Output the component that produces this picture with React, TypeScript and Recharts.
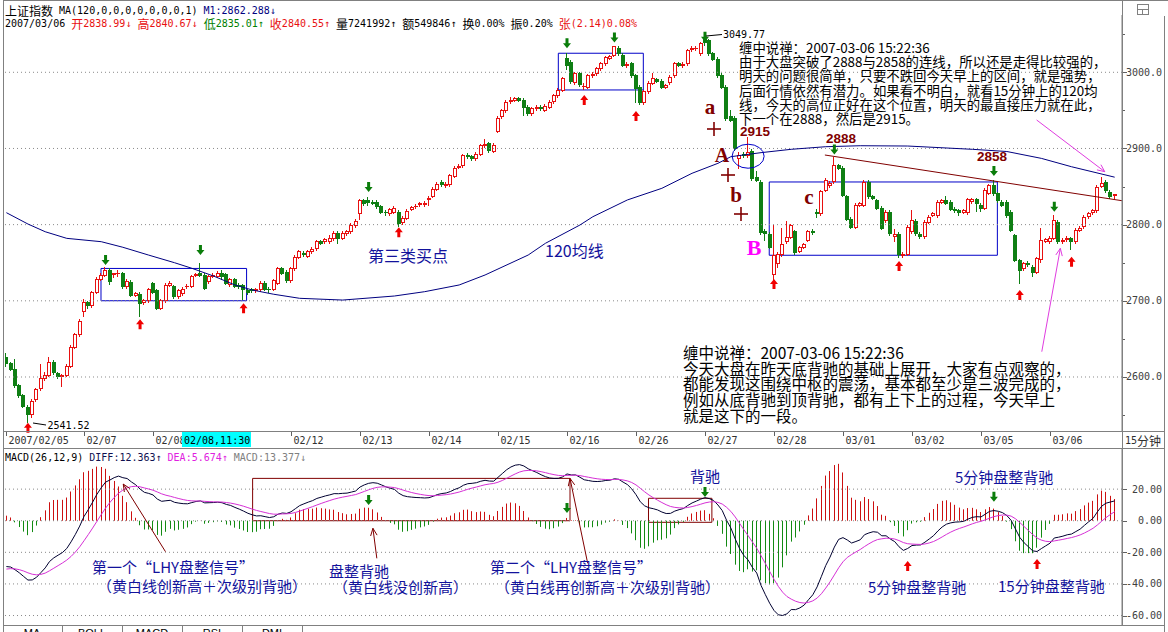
import React from 'react';
import { ComposedChart, Bar, Line, XAxis, YAxis, ReferenceArea, ReferenceDot, ReferenceLine } from 'recharts';

// ---------- 15-minute candles (02/05 tail, 02/06 ... 03/06), one row per trading day ----------
const OPEN = [
  2626,2618,2610,2589,2576,2561,2551,2571,2585,2599,2603,2620,2605,2601,2603,2615,2640,2656,
  2686,2698,2694,2712,2729,2734,2741,2735,2736,2736,2719,2725,2708,2709,2698,2701,
  2723,2714,2691,2701,2721,2719,2706,2710,2719,2720,2734,2737,2734,2726,2733,2733,
  2737,2735,2722,2728,2721,2721,2714,2715,2714,2715,2724,2716,2716,2724,2743,2738,
  2727,2743,2758,2763,2759,2765,2769,2778,2778,2778,2782,2789,2783,2789,2791,2799,
  2815,2832,2832,2830,2830,2824,2817,2815,2817,2817,2803,2809,2821,2824,2827,2827,
  2834,2838,2847,2856,2852,2853,2864,2876,2878,2892,2890,2887,2893,2904,2907,2897,
  2923,2942,2950,2962,2964,2966,2964,2955,2946,2953,2955,2951,2955,2962,2970,2977,
  3019,3014,2987,2999,2982,2981,2996,2999,3005,3012,3019,3023,3032,3023,3009,3012,
  2996,2981,2961,2975,2986,2991,2989,2981,2987,2996,3012,3009,3012,3030,3032,3025,
  3045,3042,3025,3018,2997,2981,2942,2940,2888,2893,2891,2897,2862,2856,2792,2788,
  2735,2749,2761,2778,2784,2791,2766,2771,2780,2792,2817,2815,2846,2852,2857,2878,
  2875,2837,2808,2797,2826,2826,2856,2837,2832,2822,2806,2817,2785,2788,2760,2762,
  2791,2805,2788,2785,2804,2813,2812,2830,2832,2830,2821,2819,2817,2816,2831,2833,
  2826,2822,2842,2852,2841,2830,2830,2817,2786,2753,2743,2750,2745,2738,2755,2779,
  2778,2783,2804,2778,2781,2782,2778,2793,2798,2811,2816,2819,2851,2856,2843,2838.99,
];
const CLOSE = [
  2619,2611,2589,2576,2562,2551,2569,2584,2599,2603,2620,2606,2601,2602,2615,2640,2656,2674,
  2698,2694,2711,2729,2734,2741,2726,2736,2737,2719,2726,2708,2710,2697,2701,2715,
  2712,2691,2701,2721,2723,2706,2714,2716,2720,2732,2735,2734,2717,2732,2734,2737,
  2733,2724,2728,2720,2720,2716,2712,2714,2715,2724,2716,2715,2727,2743,2737,2727,
  2743,2758,2765,2761,2765,2768,2778,2776,2781,2783,2789,2783,2789,2791,2800,2805,
  2832,2828,2830,2829,2824,2817,2816,2820,2822,2802,2809,2818,2823,2825,2828,2829,
  2835,2847,2854,2853,2854,2865,2875,2877,2891,2890,2887,2893,2904,2906,2898,2905,
  2940,2950,2961,2964,2966,2964,2955,2946,2953,2955,2953,2956,2961,2970,2977,2992,
  3010,2988,2999,2984,2982.5,2996,2998,3005,3012,3020,3021,3034,3025,3010,3011,2996,
  2979,2961,2975,2986,2992,2989,2981,2983,2994,3012,3010,3011,3029,3032,3032.5,3038,
  3040,3025,3018,2996,2981,2940,2938,2900,2891,2891,2895,2861,2859,2790,2789,2771,
  2760,2762,2775,2784,2799,2764,2770,2774,2791,2790,2815,2844,2859,2855,2878,2875,
  2839,2808,2797,2826,2828,2856,2837,2835,2822,2796,2817,2789,2788,2761,2762,2797,
  2806,2789,2785,2804,2810,2815,2830,2832,2829,2821,2819,2816,2819,2833,2833,2828,
  2822,2846,2852,2841,2832,2826,2812,2793,2754,2740,2749,2748,2738,2756,2780,2781,
  2783,2806,2778,2780,2783,2779,2793,2796,2810,2815,2819,2850,2855,2845,2837,2840.55,
];
const HIGH = [
  2631,2620,2624,2591,2578,2563,2571,2586,2617,2606,2626,2622,2607,2604,2617,2642,2658,2676,
  2702,2700,2713,2731,2736,2744,2743,2737,2740,2738,2728,2727,2712,2711,2703,2717,
  2725,2716,2703,2723,2726,2721,2716,2718,2722,2734,2737,2749,2736,2734,2736,2739,
  2741,2737,2730,2730,2723,2722,2716,2717,2717,2726,2726,2718,2729,2745,2745,2740,
  2745,2760,2767,2765,2767,2770,2780,2780,2783,2786,2791,2791,2791,2793,2802,2807,
  2834,2834,2836,2832,2832,2826,2819,2822,2824,2819,2811,2820,2825,2827,2830,2831,
  2838,2849,2856,2858,2856,2867,2877,2879,2893,2894,2892,2895,2906,2912,2909,2907,
  2942,2952,2963,2967,2968,2968,2966,2957,2955,2957,2957,2958,2963,2972,2979,2994,
  3025,3016,3001,3001,2986,2998,3000,3007,3014,3022,3023,3035,3034,3025,3013,3014,
  2998,2983,2977,2988,2999,2993,2991,2985,2996,3014,3014,3013,3031,3034,3035,3040,
  3049.77,3044,3027,3020,2999,2983,2950,2942,2896,2895,2915,2899,2870,2858,2794,2790,
  2800,2764,2795,2805,2801,2793,2772,2776,2793,2794,2820,2846,2861,2857,2889,2880,
  2877,2839,2810,2828,2830,2858,2858,2839,2834,2824,2819,2819,2794,2790,2764,2799,
  2819,2807,2790,2806,2812,2817,2832,2834,2838,2832,2823,2821,2821,2835,2835,2835,
  2829,2848,2854,2858,2843,2832,2832,2819,2788,2755,2751,2752,2747,2758,2795,2783,
  2785,2812,2806,2782,2785,2784,2795,2798,2812,2817,2821,2852,2863,2858,2845,2840.67,
];
const LOW = [
  2615,2609,2587,2574,2560,2541.52,2548,2569,2583,2596,2601,2604,2599,2588,2601,2613,2638,2654,
  2680,2690,2692,2710,2727,2732,2722,2731,2733,2717,2717,2706,2706,2680,2696,2699,
  2710,2689,2689,2699,2719,2704,2704,2708,2717,2718,2732,2732,2715,2724,2731,2731,
  2728,2722,2720,2718,2717,2703,2709,2711,2712,2713,2714,2711,2714,2722,2735,2725,
  2725,2741,2756,2759,2757,2763,2767,2774,2776,2776,2780,2776,2781,2787,2789,2797,
  2808,2826,2826,2827,2822,2815,2813,2813,2815,2798,2801,2807,2819,2822,2825,2825,
  2826,2836,2845,2851,2850,2851,2862,2874,2876,2888,2885,2885,2891,2902,2896,2895,
  2921,2940,2948,2960,2962,2962,2944,2944,2944,2951,2951,2949,2953,2960,2968,2975,
  3004,2986,2985,2982,2978,2979,2994,2997,3003,3010,3017,3021,3023,3008,3007,2994,
  2961,2959,2959,2973,2984,2987,2979,2979,2985,2994,3008,3007,3010,3028,3029,3023,
  3036,3023,3016,2994,2979,2938,2936,2898,2875,2889,2889,2859,2857,2788,2780,2769,
  2722,2745,2759,2776,2782,2762,2764,2769,2778,2788,2810,2813,2844,2850,2855,2873,
  2837,2806,2795,2795,2824,2824,2835,2833,2820,2794,2804,2786,2779,2758,2758,2760,
  2789,2787,2783,2783,2802,2811,2810,2828,2827,2819,2817,2812,2815,2814,2829,2818,
  2818,2820,2840,2839,2830,2824,2810,2791,2752,2723,2741,2746,2733,2736,2751,2777,
  2776,2781,2776,2776,2779,2768,2776,2791,2796,2809,2814,2817,2849,2843,2835,2835.01,
];

// 120-bar moving average at these bars
const MA_IDX = [0,5,9,14,22,27,33,39,43,48,53,57,62,68,78,90,97,105,111,121,125,133,136,144,152,159,165,168,175,182,190,198,209,224,232,240,247,257];
const MA_VAL = [2815.7,2800.8,2790.7,2782,2777.6,2770.3,2760,2750,2742.7,2732.6,2720.8,2714.2,2708.6,2703.3,2701,2706.3,2712,2720.8,2733.9,2760.1,2775.5,2799.5,2810.4,2832.4,2847.7,2867.4,2880.5,2889.2,2894.5,2898.9,2902.3,2903.6,2903.2,2898.9,2896,2887,2876,2862.3];

// MACD(26,12,9) state carried in from before the first visible bar
const MACD_SEED = { ema12: 2646, ema26: 2675, dea: -31 };

// axis labels
const DAY_START = [0,18,34,50,66,82,98,114,130,146,162,178,194,210,226,242];
const DAY_LABEL = ['2007/02/05','02/07','02/08','','02/12','02/13','02/14','02/15','02/16','02/26','02/27','02/28','03/01','03/02','03/05','03/06'];
const PRICE_TICKS = [2550,2600,2650,2700,2750,2800,2850,2900,2950,3000,3050];
const PRICE_GRID = [2600,2700,2800,2900,3000];
const MACD_TICKS = [-60,-40,-20,0,20];

// annotation anchors (bar index, value)
const GREEN_ARROWS = [[23,2747],[45,2760],[84,2843],[130,3031.5],[141,3039],[162,3040],[192,2892],[229,2864],[243,2817]];
const RED_ARROWS = [[5,2540],[31,2675.7],[55,2696.7],[91,2796.5],[134,2970.2],[146,2949.2],[178,2728.6],[207,2752.3],[235,2714.2],[247,2758]];
const BLUE_BOXES = [[21.94,55.7,2700.1,2742.5],[127.99,147.7,2976.8,3025],[176.9,229.8,2759.8,2856]];
const MACD_GREEN_ARROWS = [[84,9.9],[130,4.9],[162,15],[229,12]];
const MACD_RED_ARROWS = [[209,-25.5],[239,-24.2]];
const MACD_BOXES = [[57.1,130.7,0,26.8],[148.9,163.6,-1,14.2]];
const MACD_POINTERS = [[36.9,-19.6,27.1,23.2],[85.9,-23.8,85.0,-4.8],[134.8,-27,130.7,26.8]];

const MONO = "'DejaVu Sans Mono','Liberation Mono',monospace";
const CJK = "'Noto Sans CJK SC','Noto Sans',sans-serif";
const SERIF = "'Liberation Serif','DejaVu Serif',serif";
const SANS = "'Liberation Sans','DejaVu Sans',sans-serif";
const RED = '#e81010';
const GREEN = '#0f7f14';
const BLUE = '#0000c8';
const NAVY = '#12129c';
const BROWN = '#800000';
const MAGENTA = '#e03ce0';
const FRAME = '#808080';

const X_DOMAIN: [number, number] = [-0.32, 258.7];

const maMap = new Map<number, number>();
MA_IDX.forEach((k, j) => maMap.set(k, MA_VAL[j]));

const priceRows = OPEN.map((o, i) => ({
  i, open: o, close: CLOSE[i], high: HIGH[i], low: LOW[i],
  range: [LOW[i], HIGH[i]], ma: maMap.has(i) ? maMap.get(i) : null,
}));

const macdRows = (() => {
  let e12 = MACD_SEED.ema12, e26 = MACD_SEED.ema26, dea = MACD_SEED.dea;
  return CLOSE.map((c, i) => {
    e12 = (2 * c + 11 * e12) / 13;
    e26 = (2 * c + 25 * e26) / 27;
    const diff = e12 - e26;
    dea = (2 * diff + 8 * dea) / 10;
    return { i, diff, dea, macd: 2 * (diff - dea) };
  });
})();

const Candle = (p: any) => {
  const { x, y, width, height, payload } = p;
  if (!payload) return <g />;
  const { open, close, high, low } = payload;
  const cx = x + width / 2;
  const c0 = Math.round(cx) - 2;
  const span = high - low;
  const h = Math.abs(height);
  const k = span > 0 ? h / span : 0;
  const yOf = (v: number) => y + (high - v) * k;
  const up = close >= open;
  const color = up ? RED : GREEN;
  const top = Math.round(yOf(Math.max(open, close)));
  const bot = Math.round(yOf(Math.min(open, close)));
  const wx = c0 + 1.5;
  const body = bot - top;
  return (
    <g>
      <line x1={wx} x2={wx} y1={Math.round(y)} y2={Math.round(y + h) + 1} stroke={color} strokeWidth={1} />
      {body < 1 ? (
        <line x1={c0} x2={c0 + 4} y1={top + 0.5} y2={top + 0.5} stroke={color} strokeWidth={1} />
      ) : up ? (
        <rect x={c0 + 0.5} y={top + 0.5} width={3} height={body} fill="#fff" stroke={color} strokeWidth={1} />
      ) : (
        <rect x={c0} y={top} width={4} height={body + 1} fill={color} />
      )}
    </g>
  );
};

const HistBar = (p: any) => {
  const { x, y, width, height, payload } = p;
  if (!payload) return <g />;
  const cx = Math.round(x + width / 2) - 0.5;
  const y1 = Math.min(y, y + height);
  const y2 = Math.max(y, y + height);
  return <line x1={cx} x2={cx} y1={y1} y2={y2} stroke={payload.macd >= 0 ? '#cc1010' : '#138a13'} strokeWidth={1} />;
};

const downArrow = (color: string) => (p: any) => {
  const { cx, cy } = p;
  return <path d={`M${cx - 1.5},${cy - 10} h3 v5 h2.5 L${cx},${cy} L${cx - 4},${cy - 5} h2.5 z`} fill={color} />;
};
const upArrow = (color: string) => (p: any) => {
  const { cx, cy } = p;
  return <path d={`M${cx - 1.5},${cy + 10} h3 v-5 h2.5 L${cx},${cy} L${cx - 4},${cy + 5} h2.5 z`} fill={color} />;
};

const arrowLine = (color: string, w = 1) => (p: any) => {
  const { x1, y1, x2, y2 } = p;
  const a = Math.atan2(y2 - y1, x2 - x1);
  const L = 8, s = 0.42;
  const hx1 = x2 - L * Math.cos(a - s), hy1 = y2 - L * Math.sin(a - s);
  const hx2 = x2 - L * Math.cos(a + s), hy2 = y2 - L * Math.sin(a + s);
  return (
    <g>
      <line x1={x1} y1={y1} x2={x2} y2={y2} stroke={color} strokeWidth={w} />
      <polyline points={`${hx1},${hy1} ${x2},${y2} ${hx2},${hy2}`} fill="none" stroke={color} strokeWidth={w} />
    </g>
  );
};

const PriceTick = (p: any) => {
  const v = p.payload.value;
  const y = Math.round(p.y) + 0.5;
  const major = v % 100 === 0;
  return (
    <g>
      <line x1={1122} x2={major ? 1127 : 1125} y1={y} y2={y} stroke="#606060" />
      {major && (
        <text x={1162} y={p.y} textAnchor="end" dominantBaseline="central" fontFamily={MONO} fontSize={10} fill="#404040">
          {v.toFixed(1)}
        </text>
      )}
    </g>
  );
};

const MacdTick = (p: any) => {
  const v = p.payload.value;
  const y = Math.round(p.y) + 0.5;
  return (
    <g>
      <line x1={1122} x2={1127} y1={y} y2={y} stroke="#606060" />
      <text x={1162} y={p.y} textAnchor="end" dominantBaseline="central" fontFamily={MONO} fontSize={10} fill="#404040">
        {v.toFixed(2)}
      </text>
    </g>
  );
};

const DateTick = (p: any) => {
  const v = p.payload.value;
  const k = DAY_START.indexOf(v);
  const lbl = DAY_LABEL[k];
  if (!lbl) return <g />;
  const x = Math.round(p.x) + 0.5;
  return (
    <g>
      <line x1={x} x2={x} y1={432} y2={436} stroke="#606060" />
      <text x={x + 2} y={440} dominantBaseline="central" fontFamily={MONO} fontSize={10} fill="#303030">
        {lbl}
      </text>
    </g>
  );
};

const T = (props: any) => {
  const { x, y, children, size = 15, color = NAVY, family = CJK, weight = 'normal', anchor = 'start' } = props;
  return (
    <text x={x} y={y} fontFamily={family} fontSize={size} fill={color} fontWeight={weight} textAnchor={anchor} dominantBaseline="central">
      {children}
    </text>
  );
};

// multi-line note as a single text element
const Note = ({ x, y, lines, size, step }: any) => (
  <text fontFamily={CJK} fontSize={size} fill="#000" dominantBaseline="central">
    {lines.map((s: string, j: number) => (
      <tspan key={j} x={x} y={y + j * step}>{s}</tspan>
    ))}
  </text>
);

const BLOCK1 = [
  '缠中说禅：2007-03-06 15:22:36',
  '由于大盘突破了2888与2858的连线，所以还是走得比较强的，',
  '明天的问题很简单，只要不跌回今天早上的区间，就是强势，',
  '后面行情依然有潜力。如果看不明白，就看15分钟上的120均',
  '线，今天的高位正好在这个位置，明天的最直接压力就在此，',
  '下一个在2888，然后是2915。',
];
const BLOCK2 = [
  '缠中说禅：2007-03-06 15:22:36',
  '今天大盘在昨天底背驰的基础上展开，大家有点观察的，',
  '都能发现这围绕中枢的震荡，基本都至少是三波完成的，',
  '例如从底背驰到顶背驰，都有上下上的过程，今天早上',
  '就是这下的一段。',
];

const Plus = ({ x, y }: any) => (
  <g stroke={BROWN} strokeWidth={1.6}>
    <line x1={x - 7} x2={x + 7} y1={y} y2={y} />
    <line x1={x} x2={x} y1={y - 7} y2={y + 7} />
  </g>
);

const Overlay = () => (
  <svg width={1168} height={632} style={{ position: 'absolute', left: 0, top: 0, pointerEvents: 'none' }}>
    {/* frame */}
    <g stroke={FRAME} strokeWidth={1} fill="none">
      <line x1={3.5} x2={3.5} y1={0} y2={632} />
      <line x1={4} x2={1168} y1={0.5} y2={0.5} />
      <line x1={4} x2={1165} y1={431.5} y2={431.5} />
      <line x1={4} x2={1165} y1={448.5} y2={448.5} />
      <line x1={4} x2={1165} y1={625.5} y2={625.5} />
      <line x1={1122.5} x2={1122.5} y1={0} y2={626} />
      <line x1={1164.5} x2={1164.5} y1={16} y2={632} />
      <rect x={1137.5} y={4.5} width={11} height={10} />
      <line x1={1137.5} x2={1148.5} y1={9.5} y2={9.5} />
      <line x1={1142.5} x2={1142.5} y1={9.5} y2={14.5} />
      {[62.5, 122.5, 182.5, 242.5, 302.5].map((x) => (
        <line key={x} x1={x} x2={x} y1={626} y2={632} />
      ))}
    </g>
    {['MA', 'BOLL', 'MACD', 'RSI', 'DMI'].map((t, j) => (
      <text key={t} x={32 + j * 60} y={637} textAnchor="middle" fontFamily={SANS} fontSize={11} fill="#000">
        {t}
      </text>
    ))}

    {/* header rows */}
    <text x={5} y={10} dominantBaseline="central" fontFamily={MONO} fontSize={10} fill="#000">
      <tspan fontFamily={CJK} fontSize={12}>上证指数</tspan>
      <tspan> MA(120,0,0,0,0,0,0,0,1) </tspan>
      <tspan fill="#000080">M1:2862.288↓</tspan>
    </text>
    <text x={5} y={23} dominantBaseline="central" fontFamily={MONO} fontSize={10} fill="#000">
      <tspan>2007/03/06 </tspan>
      <tspan fill={RED}><tspan fontFamily={CJK} fontSize={12}>开</tspan>2838.99↓ </tspan>
      <tspan fill={RED}><tspan fontFamily={CJK} fontSize={12}>高</tspan>2840.67↓ </tspan>
      <tspan fill="#008000"><tspan fontFamily={CJK} fontSize={12}>低</tspan>2835.01↑ </tspan>
      <tspan fill={RED}><tspan fontFamily={CJK} fontSize={12}>收</tspan>2840.55↑ </tspan>
      <tspan><tspan fontFamily={CJK} fontSize={12}>量</tspan>7241992↑ </tspan>
      <tspan><tspan fontFamily={CJK} fontSize={12}>额</tspan>549846↑ </tspan>
      <tspan><tspan fontFamily={CJK} fontSize={12}>换</tspan>0.00% </tspan>
      <tspan><tspan fontFamily={CJK} fontSize={12}>振</tspan>0.20% </tspan>
      <tspan fill={RED}><tspan fontFamily={CJK} fontSize={12}>张</tspan>(2.14)0.08%</tspan>
    </text>

    {/* date row extras */}
    <rect x={182} y={432} width={69} height={15} fill="#00ffff" />
    <text x={184} y={440} dominantBaseline="central" fontFamily={MONO} fontSize={10} fill="#000">02/08,11:30</text>
    <text x={1125} y={440} dominantBaseline="central" fontFamily={MONO} fontSize={10} fill="#303030">
      15<tspan fontFamily={CJK} fontSize={12}>分钟</tspan>
    </text>

    {/* MACD header */}
    <text x={5} y={457} dominantBaseline="central" fontFamily={MONO} fontSize={10} fill="#000">
      <tspan>MACD(26,12,9) </tspan>
      <tspan fill="#101050">DIFF:12.363↑ </tspan>
      <tspan fill="#e020e0">DEA:5.674↑ </tspan>
      <tspan fill="#808080">MACD:13.377↓</tspan>
    </text>

    {/* price-panel labels */}
    <line x1={33} y1={423} x2={46} y2={425} stroke="#000" />
    <T x={47.5} y={425} size={10} family={MONO} color="#000">2541.52</T>
    <line x1={706} y1={36} x2={722} y2={34.5} stroke="#000" />
    <T x={723} y={34.5} size={10} family={MONO} color="#000">3049.77</T>
    <T x={710} y={107} size={21} family={SERIF} weight="bold" color={BROWN} anchor="middle">a</T>
    <Plus x={714} y={129} />
    <T x={722} y={155} size={20} family={SERIF} weight="bold" color={BROWN} anchor="middle">A</T>
    <Plus x={728} y={175} />
    <T x={736} y={195} size={21} family={SERIF} weight="bold" color={BROWN} anchor="middle">b</T>
    <Plus x={741} y={214} />
    <T x={809} y={197} size={21} family={SERIF} weight="bold" color={BROWN} anchor="middle">c</T>
    <T x={754} y={247} size={22} family={SERIF} weight="bold" color="#ff00ff" anchor="middle">B</T>
    <T x={755} y={131.5} size={13.5} family={SANS} weight="bold" color={BROWN} anchor="middle">2915</T>
    <T x={841} y={138.3} size={13.5} family={SANS} weight="bold" color={BROWN} anchor="middle">2888</T>
    <T x={992} y={156.5} size={13.5} family={SANS} weight="bold" color={BROWN} anchor="middle">2858</T>
    <T x={368} y={255} size={16}>第三类买点</T>
    <T x={545} y={250} size={16}>120均线</T>
    <Note x={739} y={47} lines={BLOCK1} size={13.4} step={14.2} />
    <Note x={683} y={351.7} lines={BLOCK2} size={15.5} step={15.8} />

    {/* MACD-panel labels */}
    <T x={92} y={566.7}>第一个“LHY盘整信号”</T>
    <T x={97} y={585.5}>（黄白线创新高＋次级别背驰）</T>
    <T x={329} y={570}>盘整背驰</T>
    <T x={333} y={586.7}>（黄白线没创新高）</T>
    <T x={490} y={566.7}>第二个“LHY盘整信号”</T>
    <T x={495} y={586.7}>（黄白线再创新高＋次级别背驰）</T>
    <T x={690} y={475}>背驰</T>
    <T x={955} y={476.7}>5分钟盘整背驰</T>
    <T x={868} y={586.7}>5分钟盘整背驰</T>
    <T x={998} y={585}>15分钟盘整背驰</T>
  </svg>
);

export default function App() {
  return (
    <div style={{ position: 'absolute', left: 0, top: 0, width: 1168, height: 632, background: '#fff', overflow: 'hidden' }}>
      <div style={{ position: 'absolute', left: 0, top: 0 }}>
        <ComposedChart width={1168} height={448} data={priceRows} margin={{ top: 15, right: 0, bottom: 0, left: 5 }}>
          <XAxis
            dataKey="i" type="number" domain={X_DOMAIN} allowDataOverflow ticks={DAY_START} interval={0}
            height={17} axisLine={false} tickLine={false} tick={DateTick}
          />
          <YAxis
            orientation="right" width={46} type="number" domain={[2529.1, 3075.2]} allowDataOverflow
            ticks={PRICE_TICKS} interval={0} tickLine={false} axisLine={{ stroke: FRAME }} tick={PriceTick}
          />
          {PRICE_GRID.map((v) => (
            <ReferenceLine key={v} y={v} stroke="#8a8a8a" strokeDasharray="1 3" ifOverflow="visible" />
          ))}
          <Bar dataKey="range" barSize={4} shape={Candle} isAnimationActive={false} />
          <Line dataKey="ma" type="linear" stroke="#000080" strokeWidth={1} dot={false} connectNulls isAnimationActive={false} />
          {BLUE_BOXES.map(([a, b, lo, hi], j) => (
            <ReferenceArea key={j} x1={a} x2={b} y1={lo} y2={hi} fill="none" fillOpacity={0} stroke={BLUE} strokeWidth={1} ifOverflow="visible" />
          ))}
          <ReferenceDot x={172} y={2889.8} r={1} ifOverflow="visible"
            shape={(p: any) => <ellipse cx={p.cx} cy={p.cy} rx={16} ry={12} fill="none" stroke={BLUE} strokeWidth={1} />} />
          <ReferenceLine segment={[{ x: 189.8, y: 2891.4 }, { x: 258.7, y: 2831.4 }]} stroke={BROWN} strokeWidth={1} ifOverflow="visible" />
          <ReferenceLine segment={[{ x: 238.9, y: 2937.4 }, { x: 254.7, y: 2869.5 }]} stroke={MAGENTA} ifOverflow="visible" shape={arrowLine(MAGENTA)} />
          <ReferenceLine segment={[{ x: 240.1, y: 2633.2 }, { x: 244.4, y: 2768.9 }]} stroke={MAGENTA} ifOverflow="visible" shape={arrowLine(MAGENTA)} />
          {GREEN_ARROWS.map(([i, v], j) => (
            <ReferenceDot key={'g' + j} x={i} y={v} r={1} ifOverflow="visible" shape={downArrow('#0a7d0a')} />
          ))}
          {RED_ARROWS.map(([i, v], j) => (
            <ReferenceDot key={'r' + j} x={i} y={v} r={1} ifOverflow="visible" shape={upArrow('#f00000')} />
          ))}
        </ComposedChart>
      </div>
      <div style={{ position: 'absolute', left: 0, top: 449 }}>
        <ComposedChart width={1168} height={176} data={macdRows} margin={{ top: 0, right: 0, bottom: 0, left: 5 }}>
          <XAxis dataKey="i" type="number" domain={X_DOMAIN} allowDataOverflow hide />
          <YAxis
            orientation="right" width={46} type="number" domain={[-66, 45.4]} allowDataOverflow
            ticks={MACD_TICKS} interval={0} tickLine={false} axisLine={{ stroke: FRAME }} tick={MacdTick}
          />
          {MACD_TICKS.map((v) => (
            <ReferenceLine key={v} y={v} stroke="#8a8a8a" strokeDasharray="1 3" ifOverflow="visible" />
          ))}
          <Bar dataKey="macd" barSize={1} shape={HistBar} isAnimationActive={false} />
          <Line dataKey="diff" type="linear" stroke="#000030" strokeWidth={1} dot={false} isAnimationActive={false} />
          <Line dataKey="dea" type="linear" stroke="#d630d6" strokeWidth={1} dot={false} isAnimationActive={false} />
          {MACD_BOXES.map(([a, b, lo, hi], j) => (
            <ReferenceArea key={j} x1={a} x2={b} y1={lo} y2={hi} fill="none" fillOpacity={0} stroke={BROWN} strokeWidth={1} ifOverflow="visible" />
          ))}
          {MACD_POINTERS.map(([a, b, c, d], j) => (
            <ReferenceLine key={'p' + j} segment={[{ x: a, y: b }, { x: c, y: d }]} stroke={BROWN} ifOverflow="visible" shape={arrowLine(BROWN)} />
          ))}
          {MACD_GREEN_ARROWS.map(([i, v], j) => (
            <ReferenceDot key={'mg' + j} x={i} y={v} r={1} ifOverflow="visible" shape={downArrow('#0a7d0a')} />
          ))}
          {MACD_RED_ARROWS.map(([i, v], j) => (
            <ReferenceDot key={'mr' + j} x={i} y={v} r={1} ifOverflow="visible" shape={upArrow('#f00000')} />
          ))}
        </ComposedChart>
      </div>
      <Overlay />
    </div>
  );
}
